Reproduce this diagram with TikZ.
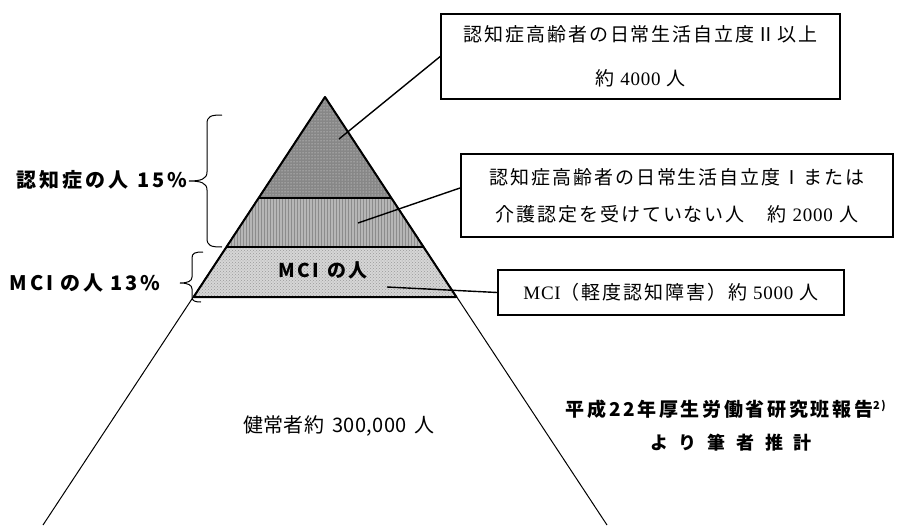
\documentclass[tikz,border=0pt]{standalone}
\usepackage{fontspec}
\usetikzlibrary{patterns}
\setmainfont{Liberation Serif}
\newfontfamily\jpsp{Noto Sans CJK JP}[LetterSpace=10]
\newfontfamily\rmsp{Liberation Serif}[LetterSpace=4]
\newfontfamily\jpb{Noto Sans CJK JP}[LetterSpace=14]
\newfontfamily\jpw{Noto Sans CJK JP}[LetterSpace=60]
\newfontfamily\jpr{Noto Sans CJK JP}[LetterSpace=2]
\newcommand\latn[1]{{\rmsp #1}}
\definecolor{topfill}{RGB}{135,135,135}
\definecolor{midfill}{RGB}{182,182,182}
\definecolor{mcifill}{RGB}{214,214,214}
\tikzset{
  band/.style={draw=black, line width=2pt, line join=round},
  thinedge/.style={draw=black, line width=1pt},
  infobox/.style={draw=black, line width=1.6pt, fill=white, inner sep=0pt, align=center,
     font=\fontsize{19}{22}\selectfont\jpsp},
  leader/.style={draw=black, line width=1.4pt},
  bracepath/.style={draw=black, line width=1pt},
  boldlabel/.style={inner sep=0pt, font=\fontsize{20}{22}\selectfont\jpb\bfseries},
}
\begin{document}
\begin{tikzpicture}[x=1pt,y=-1pt]
\useasboundingbox (0,0) rectangle (908,525);
% large thin triangle
\coordinate (apex) at (325,97);
\coordinate (bl) at (43,525);
\coordinate (br) at (607,525);
\draw[thinedge] (bl) -- (apex) -- (br);
% bands
\fill[topfill] (apex) -- (258.6,198) -- (391.4,198) -- cycle;
\fill[pattern=dots, pattern color=white!85!topfill] (apex) -- (258.6,198) -- (391.4,198) -- cycle;
\fill[midfill] (258.6,198) -- (226.4,247) -- (423.6,247) -- (391.4,198) -- cycle;
\fill[pattern=vertical lines, pattern color=gray!90] (258.6,198) -- (226.4,247) -- (423.6,247) -- (391.4,198) -- cycle;
\fill[mcifill] (226.4,247) -- (193.6,297) -- (456.4,297) -- (423.6,247) -- cycle;
\fill[pattern=crosshatch dots, pattern color=gray!80] (226.4,247) -- (193.6,297) -- (456.4,297) -- (423.6,247) -- cycle;
\draw[band] (apex) -- (193.6,297) -- (456.4,297) -- cycle;
\draw[band] (258.6,198) -- (391.4,198);
\draw[band] (226.4,247) -- (423.6,247);
% inner anchor points
\coordinate (p1) at (339,139);
\coordinate (p2) at (358,223);
\coordinate (p3) at (387,287);
% boxes
\node[infobox, minimum width=399pt, minimum height=85pt] (b1) at (640.5,56.5)
  {認知症高齢者の日常生活自立度Ⅱ以上\\[22pt]約 \latn{4000} 人};
\node[infobox, minimum width=432pt, minimum height=83pt] (b2) at (677,195.5)
  {認知症高齢者の日常生活自立度Ⅰまたは\\[15pt]介護認定を受けていない人　約 \latn{2000} 人};
\node[infobox, minimum width=346pt, minimum height=45pt] (b3) at (671,292.5)
  {\latn{MCI}（軽度認知障害）約 \latn{5000} 人};
% leaders
\draw[leader] (p1) -- (b1.west);
\draw[leader] (p2) -- (b2.178);
\draw[leader] (p3) -- (b3.west);
% labels
\node[inner sep=0pt, font=\fontsize{19}{22}\selectfont\jpb\bfseries] (mcil) at (323,270) {MCI\hspace{8pt}の人};
\node[boldlabel, anchor=east] (dem) at (187,180) {認知症の人\hspace{9pt}15\%};
\node[boldlabel, anchor=east] (mci) at (160,283) {MCI\hspace{7pt}の人\hspace{7pt}13\%};
\node[inner sep=0pt, font=\fontsize{20}{24}\selectfont\jpr] (healthy) at (339,426) {健常者約\hspace{8pt}300,000\hspace{8pt}人};
\node[boldlabel, anchor=east, font=\fontsize{19}{22}\selectfont\jpb\bfseries] (src1) at (886,409) {平成22年厚生労働省研究班報告\raisebox{7pt}{\fontsize{11}{12}\selectfont 2)}};
\node[inner sep=0pt, anchor=west, font=\fontsize{18}{22}\selectfont\jpw\bfseries] (src2) at (650,443) {より筆者推計};
% braces
\draw[bracepath] (222,115) .. controls (211,115) and (207,116) .. (207,124) -- (207,172)
  .. controls (207,179) and (201,181) .. (189,181)
  .. controls (201,181) and (207,183) .. (207,190) -- (207,238)
  .. controls (207,246) and (211,247) .. (222,247);
\draw[bracepath] (203,252) .. controls (195,252) and (192,253) .. (192,258) -- (192,277)
  .. controls (192,281) and (188,283) .. (180,283)
  .. controls (188,283) and (192,285) .. (192,289) -- (192,297)
  .. controls (192,301) and (195,302) .. (201,302);
\end{tikzpicture}
\end{document}
